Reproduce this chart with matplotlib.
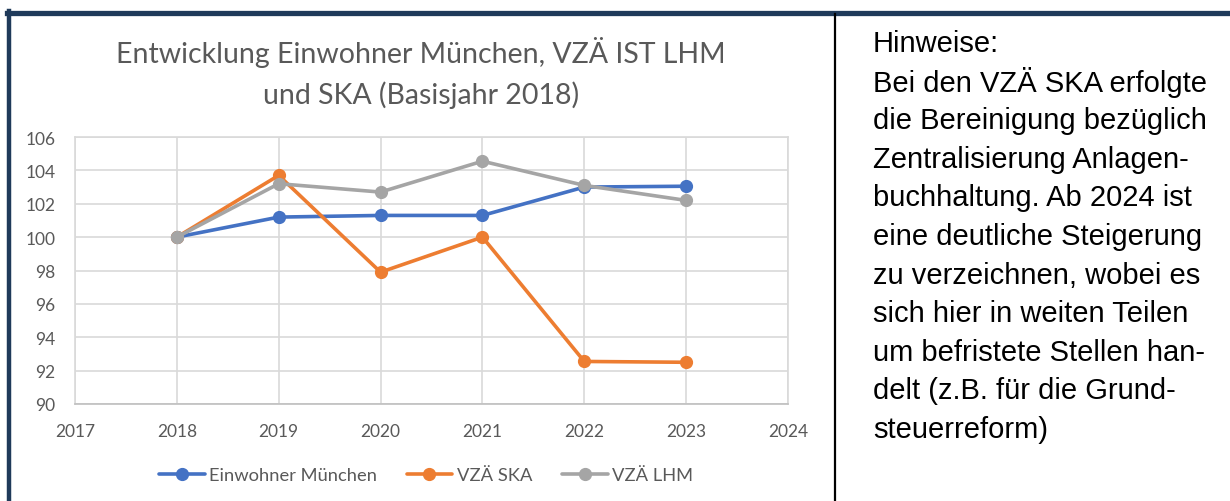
import matplotlib
matplotlib.use("Agg")
import matplotlib.pyplot as plt
from matplotlib.lines import Line2D

# data
years = [2018, 2019, 2020, 2021, 2022, 2023]
einwohner = [100.0, 101.2, 101.3, 101.3, 103.0, 103.05]
vzae_ska = [100.0, 103.7, 97.9, 100.0, 92.55, 92.5]
vzae_lhm = [100.0, 103.2, 102.7, 104.55, 103.1, 102.2]
series_names = ["Einwohner München", "VZÄ SKA", "VZÄ LHM"]
x_ticks = list(range(2017, 2025))
y_ticks = list(range(90, 107, 2))

title = "Entwicklung Einwohner München, VZÄ IST LHM\nund SKA (Basisjahr 2018)"
note_lines = [
    "Hinweise:",
    "Bei den VZÄ SKA erfolgte",
    "die Bereinigung bezüglich",
    "Zentralisierung Anlagen-",
    "buchhaltung. Ab 2024 ist",
    "eine deutliche Steigerung",
    "zu verzeichnen, wobei es",
    "sich hier in weiten Teilen",
    "um befristete Stellen han-",
    "delt (z.B. für die Grund-",
    "steuerreform)",
]

W, H = 1230, 502
fig = plt.figure(figsize=(W / 100, H / 100), dpi=100)
fig.patch.set_facecolor("white")

TXT = "#595959"
GRID = "#d9d9d9"
colors = ["#4472c4", "#ed7d31", "#a5a5a5"]

# plot area in pixels: x 75..788, y 138..405
ax = fig.add_axes([75 / W, 1 - 405 / H, (788 - 75) / W, (405 - 138) / H])
for vals, name, c in zip([einwohner, vzae_ska, vzae_lhm], series_names, colors):
    ax.plot(years, vals, color=c, lw=2.6, marker="o", ms=8.5, label=name,
            solid_capstyle="round", zorder=3)

ax.set_xlim(2017, 2024)
ax.set_ylim(90, 106)
ax.set_xticks(x_ticks)
ax.set_yticks(y_ticks)
ax.grid(True, color=GRID, lw=1.2, zorder=0)
for s in ["top", "right", "left"]:
    ax.spines[s].set_color(GRID)
    ax.spines[s].set_linewidth(1.2)
ax.spines["bottom"].set_color("#bfbfbf")
ax.spines["bottom"].set_linewidth(1.2)
ax.tick_params(length=0, labelsize=12.5, labelcolor=TXT)
ax.tick_params(axis="y", pad=14)
ax.tick_params(axis="x", pad=14)
for lab in ax.get_xticklabels() + ax.get_yticklabels():
    lab.set_family("Lato")

fig.text(421 / W, 1 - 73 / H, title, ha="center", va="center", fontsize=20.5,
         color=TXT, family="Lato", linespacing=1.55)

leg = fig.legend(loc="center", bbox_to_anchor=(426 / W, 1 - 476 / H), ncol=3,
                 frameon=False, prop={"family": "Lato", "size": 13.2},
                 handlelength=2.5, columnspacing=1.6, handletextpad=0.25)
for t in leg.get_texts():
    t.set_color(TXT)

# note text on the right
for i, line in enumerate(note_lines):
    fig.text(873 / W, 1 - (44 + i * 38.6) / H, line, ha="left", va="center",
             fontsize=21, color="black", family="Liberation Sans")

# frame lines
navy = "#1f3a5a"
fig.add_artist(Line2D([7 / W, 1], [1 - 13.5 / H, 1 - 13.5 / H], color=navy, lw=3.8))
fig.add_artist(Line2D([9 / W, 9 / W], [0, 1 - 12 / H], color=navy, lw=3.2))
fig.add_artist(Line2D([835 / W, 835 / W], [0, 1 - 15 / H], color="black", lw=1.6))

fig.savefig("out.png", dpi=100)
